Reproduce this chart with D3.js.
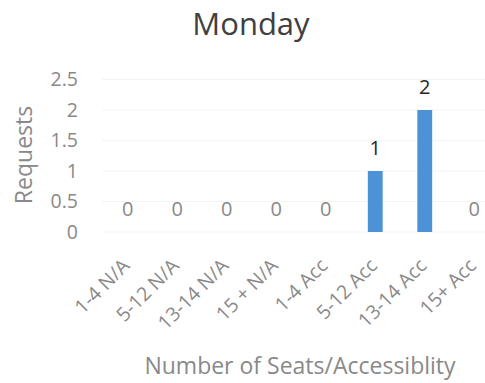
<!DOCTYPE html>
<html>
<head>
<meta charset="utf-8">
<script src="https://cdn.jsdelivr.net/npm/d3@7"></script>
<style>
  html, body { margin: 0; padding: 0; background: #fff; }
  svg text { font-family: "Open Sans", Lato, sans-serif; }
</style>
</head>
<body>
<svg id="chart" width="485" height="383"></svg>
<script>
// Requests per seat group / accessibility for Monday
const categories = ["1-4 N/A", "5-12 N/A", "13-14 N/A", "15 + N/A", "1-4 Acc", "5-12 Acc", "13-14 Acc", "15+ Acc"];
const requests = [0, 0, 0, 0, 0, 1, 2, 0];
const yTicks = [0, 0.5, 1, 1.5, 2, 2.5];

const FONT = "'Open Sans', Lato, sans-serif";
const GREY = "#898989";

const svg = d3.select("#chart");

const x = d3.scaleBand().domain(categories).range([103, 499])
  .paddingInner(0.7).paddingOuter(0.35);
const y = d3.scaleLinear().domain([0, 2.5]).range([232, 79.5]);

// faint horizontal gridlines
svg.append("g")
  .selectAll("line")
  .data(yTicks)
  .join("line")
  .attr("x1", 102).attr("x2", 485)
  .attr("y1", d => y(d)).attr("y2", d => y(d))
  .attr("stroke", "#f4f4f4").attr("stroke-width", 1);

// y axis labels
const yAxis = d3.axisLeft(y).tickValues(yTicks).tickSize(0).tickPadding(0)
  .tickFormat(d3.format("~g"));
const gy = svg.append("g").attr("transform", "translate(78,0)").call(yAxis);
gy.select(".domain").remove();
gy.selectAll("text").attr("font-size", 19.5).attr("fill", GREY)
  .attr("font-family", FONT);

// bars
const rows = categories.map((c, i) => ({c, v: requests[i]}));
svg.append("g")
  .selectAll("rect")
  .data(rows)
  .join("rect")
  .attr("x", d => x(d.c))
  .attr("width", x.bandwidth())
  .attr("y", d => y(d.v))
  .attr("height", d => y(0) - y(d.v))
  .attr("fill", "#4b92d6");

// data labels
svg.append("g")
  .selectAll("text")
  .data(rows)
  .join("text")
  .attr("x", d => x(d.c) + x.bandwidth() / 2)
  .attr("y", d => y(d.v) - 16)
  .attr("text-anchor", "middle")
  .attr("font-size", 20)
  .attr("fill", d => d.v > 0 ? "#262626" : GREY)
  .text(d => d.v);

// x axis category labels
const xAxis = d3.axisBottom(x).tickSize(0).tickPadding(0);
const gx = svg.append("g").attr("transform", "translate(0,232)").call(xAxis);
gx.select(".domain").remove();
gx.selectAll("text")
  .attr("font-size", 19.5).attr("fill", GREY)
  .attr("font-family", FONT)
  .attr("text-anchor", "end")
  .attr("dy", 0)
  .attr("transform", "translate(3,35) rotate(-45)");

// titles
svg.append("text")
  .attr("x", 251).attr("y", 35)
  .attr("text-anchor", "middle")
  .attr("font-size", 31).attr("fill", "#404040")
  .text("Monday");

svg.append("text")
  .attr("transform", "translate(32,155) rotate(-90)")
  .attr("text-anchor", "middle")
  .attr("font-size", 23).attr("fill", GREY)
  .text("Requests");

svg.append("text")
  .attr("x", 300).attr("y", 374)
  .attr("text-anchor", "middle")
  .attr("font-size", 23).attr("fill", GREY)
  .text("Number of Seats/Accessiblity");
</script>
</body>
</html>
